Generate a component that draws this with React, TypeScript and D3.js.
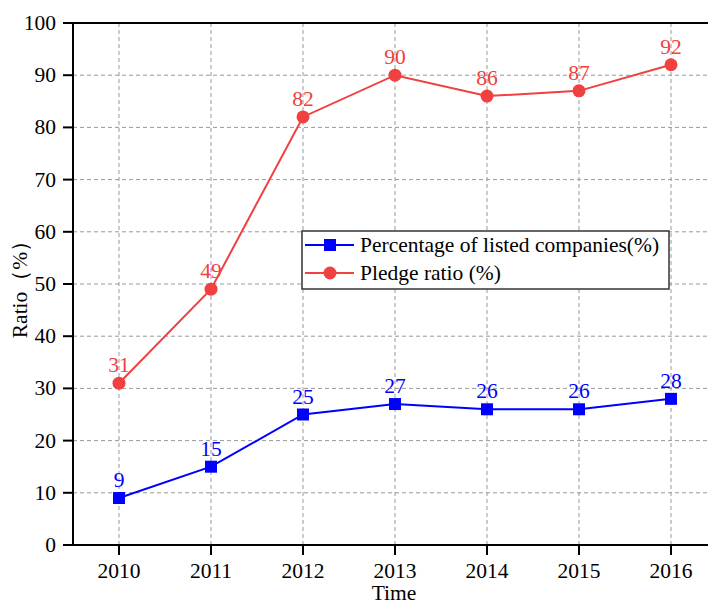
import React from 'react';
import * as d3 from 'd3';

const years = [2010, 2011, 2012, 2013, 2014, 2015, 2016];
const listedPct = [9, 15, 25, 27, 26, 26, 28];
const pledgeRatio = [31, 49, 82, 90, 86, 87, 92];
const yTicks = [0, 10, 20, 30, 40, 50, 60, 70, 80, 90, 100];

const W = 708;
const H = 605;
const margin = { top: 23, right: 0, bottom: 60, left: 73 };
const FONT = '"Liberation Serif", "Times New Roman", serif';
const FS = 21.5;
const BLUE = '#0000ff';
const RED = '#f04040';

const App: React.FC = () => {
  const x = d3.scaleLinear().domain([2009.5, 2016.5]).range([margin.left, 717]);
  const y = d3.scaleLinear().domain([0, 100]).range([H - margin.bottom, margin.top]);
  const x0 = margin.left;
  const y0 = y(0);

  const line = d3.line<number>()
    .x((_, i) => x(years[i]))
    .y(d => y(d));

  return (
    <svg width={W} height={H} style={{ position: 'absolute', left: 0, top: 0 }} fontFamily={FONT}>
      <rect width={W} height={H} fill="#fff" />
      {/* grid */}
      {yTicks.slice(1, -1).map(t => (
        <line key={'gy' + t} x1={x0} x2={W} y1={y(t)} y2={y(t)} stroke="#999" strokeDasharray="4,3" strokeWidth={1} />
      ))}
      {years.map(yr => (
        <line key={'gx' + yr} x1={x(yr)} x2={x(yr)} y1={y(100)} y2={y0} stroke="#999" strokeDasharray="4,3" strokeWidth={1} />
      ))}
      {/* axes */}
      <line x1={x0} x2={W} y1={y(100)} y2={y(100)} stroke="#000" strokeWidth={2} />
      <line x1={x0} x2={W} y1={y0} y2={y0} stroke="#000" strokeWidth={2} />
      <line x1={x0} x2={x0} y1={y(100) - 1} y2={y0 + 1} stroke="#000" strokeWidth={2} />
      {yTicks.map(t => (
        <g key={'ty' + t}>
          <line x1={x0 - 10} x2={x0} y1={y(t)} y2={y(t)} stroke="#000" strokeWidth={2} />
          <text x={x0 - 17} y={y(t) + 7} textAnchor="end" fontSize={FS}>{t}</text>
        </g>
      ))}
      {years.map(yr => (
        <g key={'tx' + yr}>
          <line x1={x(yr)} x2={x(yr)} y1={y0} y2={y0 + 10} stroke="#000" strokeWidth={2} />
          <text x={x(yr)} y={y0 + 33} textAnchor="middle" fontSize={FS}>{yr}</text>
        </g>
      ))}
      <text x={W / 2 + 40} y={600} textAnchor="middle" fontSize={FS}>Time</text>
      <text transform={`translate(27, ${(y(100) + y0) / 2}) rotate(-90)`} textAnchor="middle" fontSize={FS}>Ratio（%）</text>

      {/* series */}
      <path d={line(pledgeRatio) || ''} fill="none" stroke={RED} strokeWidth={2} />
      <path d={line(listedPct) || ''} fill="none" stroke={BLUE} strokeWidth={2} />
      {pledgeRatio.map((v, i) => (
        <g key={'r' + i}>
          <circle cx={x(years[i])} cy={y(v)} r={6.5} fill={RED} />
          <text x={x(years[i])} y={y(v) - 11} textAnchor="middle" fontSize={FS} fill={RED}>{v}</text>
        </g>
      ))}
      {listedPct.map((v, i) => (
        <g key={'b' + i}>
          <rect x={x(years[i]) - 6} y={y(v) - 6} width={12} height={12} fill={BLUE} />
          <text x={x(years[i])} y={y(v) - 11} textAnchor="middle" fontSize={FS} fill={BLUE}>{v}</text>
        </g>
      ))}

      {/* legend */}
      <g>
        <rect x={302} y={231} width={367} height={58} fill="#fff" stroke="#333" strokeWidth={1.5} />
        <line x1={305} x2={354} y1={245} y2={245} stroke={BLUE} strokeWidth={2} />
        <rect x={324} y={239} width={12} height={12} fill={BLUE} />
        <text x={360} y={252} fontSize={FS}>Percentage of listed companies(%)</text>
        <line x1={305} x2={354} y1={273} y2={273} stroke={RED} strokeWidth={2} />
        <circle cx={330} cy={273} r={6.5} fill={RED} />
        <text x={360} y={280} fontSize={FS}>Pledge ratio (%)</text>
      </g>
    </svg>
  );
};

export default App;
